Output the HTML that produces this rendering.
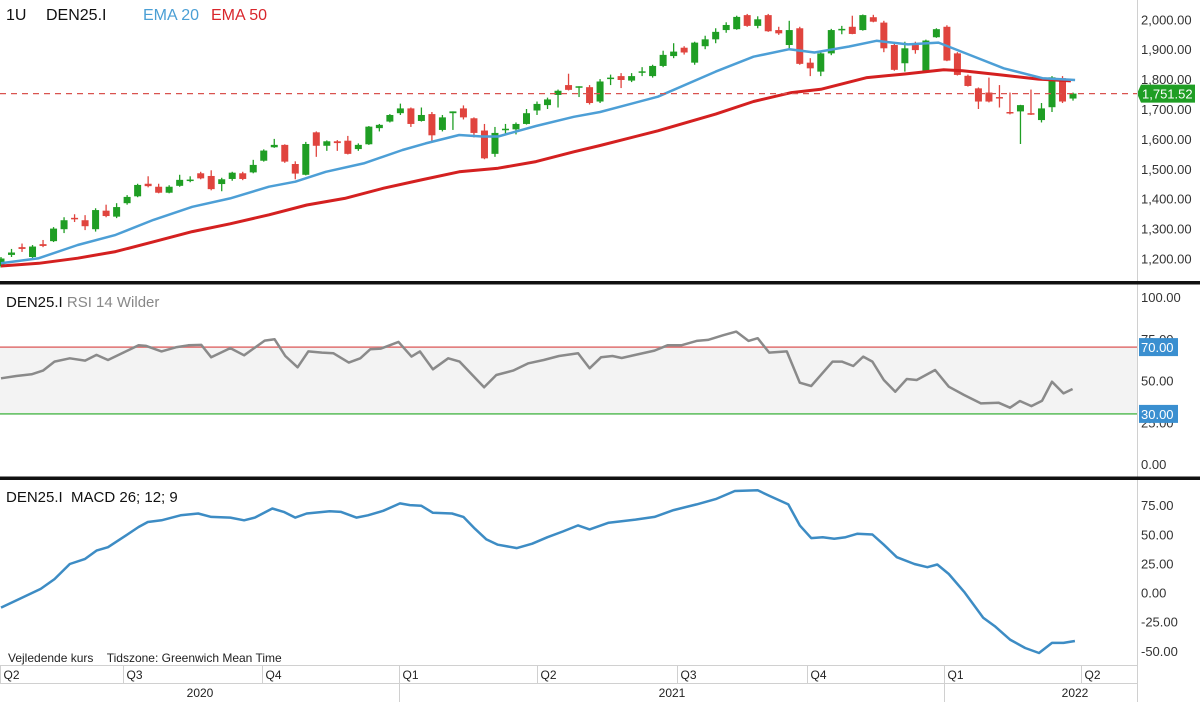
<!DOCTYPE html>
<html><head><meta charset="utf-8"><title>DEN25.I chart</title>
<style>
html,body{margin:0;padding:0;background:#fff;}
svg{display:block;font-family:"Liberation Sans",Arial,sans-serif;}
</style></head>
<body>
<svg id="chart" width="1200" height="702" viewBox="0 0 1200 702" xmlns="http://www.w3.org/2000/svg">
  <rect x="0" y="0" width="1200" height="702" fill="#fff"/>
  <rect x="0" y="347" width="1137" height="68" fill="#f3f3f3"/>
  <g id="grid"></g>
  <g id="price"></g>
  <g id="rsi"></g>
  <g id="macd"></g>
  <g id="axes"></g>
  <line x1="1137.5" y1="0" x2="1137.5" y2="702" stroke="#d0d0d0" stroke-width="1"/>
  <rect x="0" y="281" width="1200" height="3.5" fill="#111"/>
  <rect x="0" y="476.5" width="1200" height="3.5" fill="#111"/>
  <text x="6" y="20" font-size="16" fill="#111">1U</text>
  <text x="46" y="20" font-size="16" fill="#111">DEN25.I</text>
  <text x="143" y="20" font-size="16" fill="#4a9fd5">EMA 20</text>
  <text x="211" y="20" font-size="16" fill="#d9262c">EMA 50</text>
  <text x="6" y="307" font-size="15" fill="#111">DEN25.I <tspan fill="#888">RSI 14 Wilder</tspan></text>
  <text x="6" y="502" font-size="15" fill="#111">DEN25.I&#160;&#160;MACD 26; 12; 9</text>
  <text x="8" y="662" font-size="12" fill="#222">Vejledende kurs&#160;&#160;&#160;&#160;Tidszone: Greenwich Mean Time</text>
</svg>
<script>
// ---- data ----
const opens  = [1175,1212,1238,1205,1248,1258,1298,1336,1328,1298,1360,1340,1385,1408,1450,1440,1420,1443,1460,1485,1476,1449,1466,1485,1488,1527,1572,1580,1516,1480,1622,1577,1592,1594,1566,1582,1636,1658,1686,1702,1660,1683,1630,1686,1702,1669,1628,1550,1630,1632,1650,1695,1713,1747,1780,1772,1773,1725,1800,1810,1795,1822,1810,1844,1877,1905,1855,1910,1933,1964,1967,2014,1978,2014,1964,1914,1970,1855,1825,1886,1965,1975,1964,2007,1989,1914,1853,1914,1828,1940,1975,1886,1811,1769,1755,1740,1690,1692,1686,1663,1706,1803,1735];
const closes = [1200,1220,1232,1240,1242,1300,1328,1332,1308,1362,1342,1372,1406,1446,1442,1420,1440,1463,1464,1468,1432,1465,1487,1466,1513,1561,1580,1524,1484,1583,1577,1592,1586,1550,1580,1641,1647,1680,1702,1650,1680,1612,1672,1692,1672,1620,1535,1620,1634,1650,1686,1717,1732,1761,1764,1776,1720,1792,1805,1797,1810,1826,1844,1881,1892,1889,1922,1933,1958,1981,2008,1978,2000,1960,1953,1964,1851,1836,1886,1964,1968,1951,2014,1992,1903,1831,1903,1897,1929,1967,1862,1814,1777,1725,1725,1735,1685,1713,1682,1702,1806,1725,1751.52];
const highs  = [1205,1232,1250,1245,1262,1305,1338,1348,1345,1368,1380,1385,1412,1450,1475,1450,1445,1480,1475,1490,1495,1470,1490,1490,1530,1565,1600,1582,1525,1590,1625,1595,1596,1610,1585,1643,1650,1683,1718,1705,1705,1690,1680,1692,1712,1672,1650,1640,1650,1655,1700,1725,1738,1765,1818,1776,1780,1800,1815,1820,1820,1840,1848,1895,1920,1910,1925,1945,1970,1990,2012,2018,2010,2018,1975,1995,1975,1870,1890,1968,1978,2012,2016,2015,1995,1918,1925,1925,1932,1970,1980,1890,1815,1772,1805,1780,1755,1714,1765,1720,1810,1810,1755];
const lows   = [1170,1205,1222,1198,1238,1255,1285,1322,1295,1290,1338,1335,1380,1405,1438,1418,1418,1440,1455,1465,1428,1425,1460,1462,1485,1524,1570,1520,1465,1478,1540,1560,1560,1548,1560,1580,1625,1655,1680,1640,1658,1590,1625,1630,1665,1605,1532,1540,1615,1615,1648,1680,1700,1705,1762,1740,1715,1720,1780,1770,1790,1810,1805,1840,1870,1882,1848,1900,1920,1955,1965,1975,1970,1958,1948,1900,1848,1810,1810,1880,1950,1950,1962,1990,1890,1828,1825,1885,1825,1938,1860,1812,1775,1700,1722,1705,1682,1583,1680,1655,1690,1720,1728];
const lastPrice = 1751.52;

const ema20Week = [0,3.6,7.3,10.9,14.5,18.2,21.8,25.5,28,30.9,34.5,38.2,40.4,43.6,45.8,47.3,50.9,54.5,57,62.5,68,71.6,75,77.4,80.7,83.3,86.3,89.2,91.8,95.4,99.1,102.2];
const ema20Vals = [1184,1201,1245,1279,1329,1373,1401,1440,1457,1490,1518,1563,1585,1613,1608,1608,1643,1674,1690,1741,1825,1875,1900,1889,1909,1928,1916,1922,1886,1836,1803,1797];
const ema50Week = [0,3.6,7.3,10.9,14.5,18.2,21.8,25.5,29.1,32.7,36.4,40,43.6,47.3,50.9,54.5,57,62.5,68,71.6,75.2,78,82.4,86,89.7,91.5,95.1,98.7,101.8];
const ema50Vals = [1175,1184,1201,1223,1256,1290,1316,1346,1379,1401,1435,1463,1490,1502,1524,1557,1578,1627,1683,1725,1755,1766,1805,1817,1831,1828,1814,1800,1794];

const rsiZ = [0,20,40,55,70,90,110,125,140,160,180,190,210,230,245,262,275,300,318,345,358,372,388,402,420,435,455,470,483,497,520,537,548,565,585,600,632,648,670,690,710,730,755,770,785,800,812,830,855,872,890,910,925,945,962,978,990,1005,1028,1045,1060,1088,1100,1115,1128,1140,1155,1170,1185,1198,1222,1240,1260,1282,1305,1320,1333,1348,1362,1375,1390,1402];
const rsiWeek = rsiZ.map(z => z / 13.75);
const rsiVals = [51.3,52.7,53.7,55.9,61.3,63.3,61.9,65.3,62.3,66.7,71.1,70.7,67.4,70,71.1,71.3,63.9,69.4,65.1,73.9,74.7,64.7,57.9,67.4,66.7,66.3,60.7,63.3,68.7,69.1,73.1,64.3,67.4,56.7,63.3,61.3,45.9,53.3,55.9,60.3,62.3,64.7,66.3,57.3,63.9,64.7,63.5,65.3,67.9,71.1,71.1,73.7,74.3,77.1,79.3,73.7,75.3,66.7,67.4,48.7,46.7,61.3,61.3,58.7,64.3,61.3,50.3,43.3,50.9,50.3,56.3,46.3,41.3,36.3,36.7,33.7,37.7,34.7,37.9,49.3,42.3,44.9];

const macdZ = [0,25,52,70,90,110,125,140,160,180,192,210,235,258,275,300,318,332,355,370,385,400,430,445,465,480,500,522,535,550,565,590,605,620,635,650,675,695,715,735,755,770,795,830,855,880,910,935,960,990,1005,1030,1045,1060,1075,1090,1105,1120,1140,1155,1172,1195,1212,1225,1240,1260,1285,1300,1320,1340,1358,1375,1390,1405];
const macdWeek = macdZ.map(z => z / 13.75);
const macdVals = [-13,-5.2,3.1,11.5,24.5,28.8,36,38.9,47.5,56.2,60.5,62,66.3,67.8,64.9,64.3,62,64.3,72.1,69.2,64.3,67.8,69.8,69.2,64.3,66.3,70.1,76.5,75,74.4,68.4,67.8,64.9,54.8,45.6,41,38.1,41.9,47.5,52.4,57.6,54.2,59.9,62.6,64.9,70.7,75.6,80.2,87.1,87.7,83.1,75.6,57.6,46.7,47.5,46.1,47.5,50.4,49.8,41,30.3,24.5,21.7,24,15.9,0.6,-21.6,-28.8,-40.4,-47.6,-51.9,-43.3,-43.3,-41.6];

const priceTicks = [2000,1900,1800,1700,1600,1500,1400,1300,1200];
const rsiTicks = [100,75,50,25,0];
const macdTicks = [75,50,25,0,-25,-50];
const quarterWeeks = [0,11.7,24.9,38,51.1,64.4,76.8,89.8,102.9];
const quarterLabels = ["Q2","Q3","Q4","Q1","Q2","Q3","Q4","Q1","Q2"];
const yearWeeks = [38,89.8];
const yearLabels = ["2020","2021","2022"];

// ---- scales ----
const xW = w => 1 + w * 10.51;
const yP = v => 19.3 + (2000 - v) * 0.2990;
const yR = v => 464 - v * 1.67;
const yM = v => 592.5 - v * 1.165;
const NS = "http://www.w3.org/2000/svg";
function mk(tag, attrs, parent){
  const e = document.createElementNS(NS, tag);
  for (const k in attrs) e.setAttribute(k, attrs[k]);
  parent.appendChild(e);
  return e;
}
const fmt = v => v.toLocaleString("en-US",{minimumFractionDigits:2,maximumFractionDigits:2});
const gP = document.getElementById("price"), gR = document.getElementById("rsi"), gM = document.getElementById("macd"), gA = document.getElementById("axes");

// candles
for (let i = 0; i < opens.length; i++) {
  const up = closes[i] >= opens[i];
  const col = up ? "#1f9e24" : "#e0443e";
  const x = xW(i);
  const g = mk("g", {}, gP);
  
  
  mk("line", {x1:x, x2:x, y1:yP(highs[i]), y2:yP(lows[i]), stroke:col, "stroke-width":1.3}, g);
  const top = yP(Math.max(opens[i], closes[i])), bot = yP(Math.min(opens[i], closes[i]));
  mk("rect", {x:x-3.5, y:top, width:7, height:Math.max(1.5, bot-top), fill:col}, g);
}
function linePath(ws, vs, ys){ return ws.map((w,i)=>(i?"L":"M")+xW(w).toFixed(1)+","+ys(vs[i]).toFixed(1)).join(""); }
const e50 = mk("path", {d:linePath(ema50Week, ema50Vals, yP), fill:"none", stroke:"#d42020", "stroke-width":3, "stroke-linejoin":"round"}, gP);


const e20 = mk("path", {d:linePath(ema20Week, ema20Vals, yP), fill:"none", stroke:"#4d9fd6", "stroke-width":2.5, "stroke-linejoin":"round"}, gP);


const dl = mk("line", {x1:0, x2:1137, y1:yP(lastPrice), y2:yP(lastPrice), stroke:"#d9534f", "stroke-width":1.2, "stroke-dasharray":"6,5"}, gP);



// price axis
priceTicks.forEach(v => {
  const t = mk("text", {x:1141, y:yP(v)+5, "font-size":13, fill:"#333"}, gA);
  
  
  t.textContent = fmt(v);
});
const ly = yP(lastPrice);
const lb = mk("path", {d:`M1137,${ly} L1141,${ly-9} L1195,${ly-9} L1195,${ly+9} L1141,${ly+9} Z`, fill:"#1f9e24"}, gA);


const lt = mk("text", {x:1142, y:ly+5, "font-size":13, fill:"#fff"}, gA);


lt.textContent = fmt(lastPrice);

// RSI
const r70 = mk("line", {x1:0, x2:1137, y1:yR(70), y2:yR(70), stroke:"#e07070", "stroke-width":1.5}, gR);


const r30 = mk("line", {x1:0, x2:1137, y1:yR(30), y2:yR(30), stroke:"#5cbf5c", "stroke-width":1.5}, gR);


const rl = mk("path", {d:linePath(rsiWeek, rsiVals, yR), fill:"none", stroke:"#8a8a8a", "stroke-width":2.5, "stroke-linejoin":"round"}, gR);


rsiTicks.forEach(v => {
  const t = mk("text", {x:1141, y:yR(v)+5, "font-size":13, fill:"#333"}, gA);
  
  
  t.textContent = fmt(v);
});
[70,30].forEach(v => {
  const b = mk("rect", {x:1139, y:yR(v)-9, width:39, height:18, fill:"#3a8fd0"}, gA);
  
  
  const t = mk("text", {x:1141, y:yR(v)+5, "font-size":13, fill:"#fff"}, gA);
  
  
  t.textContent = fmt(v);
});

// MACD
const ml = mk("path", {d:linePath(macdWeek, macdVals, yM), fill:"none", stroke:"#3d8cc4", "stroke-width":2.5, "stroke-linejoin":"round"}, gM);


macdTicks.forEach(v => {
  const t = mk("text", {x:1141, y:yM(v)+5, "font-size":13, fill:"#333"}, gA);
  
  
  t.textContent = fmt(v);
});

// time axis
const ax1 = mk("line", {x1:0, x2:1137, y1:665.5, y2:665.5, stroke:"#d0d0d0", "stroke-width":1}, gA);


const ax2 = mk("line", {x1:0, x2:1137, y1:683.5, y2:683.5, stroke:"#d0d0d0", "stroke-width":1}, gA);


quarterWeeks.forEach((w,i) => {
  const x = Math.round(xW(w)) - 0.5;
  const tk = mk("line", {x1:x, x2:x, y1:665, y2:683, stroke:"#d0d0d0", "stroke-width":1}, gA);
  
  
  const t = mk("text", {x:x+3, y:679, "font-size":12, fill:"#222"}, gA);
  
  
  t.textContent = quarterLabels[i];
});
yearWeeks.forEach(w => {
  const x = Math.round(xW(w)) - 0.5;
  const tk = mk("line", {x1:x, x2:x, y1:683, y2:702, stroke:"#d0d0d0", "stroke-width":1}, gA);
  
  
});
const yearCenters = [200, 672, 1075];
yearLabels.forEach((lab,i) => {
  const t = mk("text", {x:yearCenters[i], y:697, "font-size":12, fill:"#222", "text-anchor":"middle"}, gA);
  
  
  t.textContent = lab;
});
</script>
</body></html>
